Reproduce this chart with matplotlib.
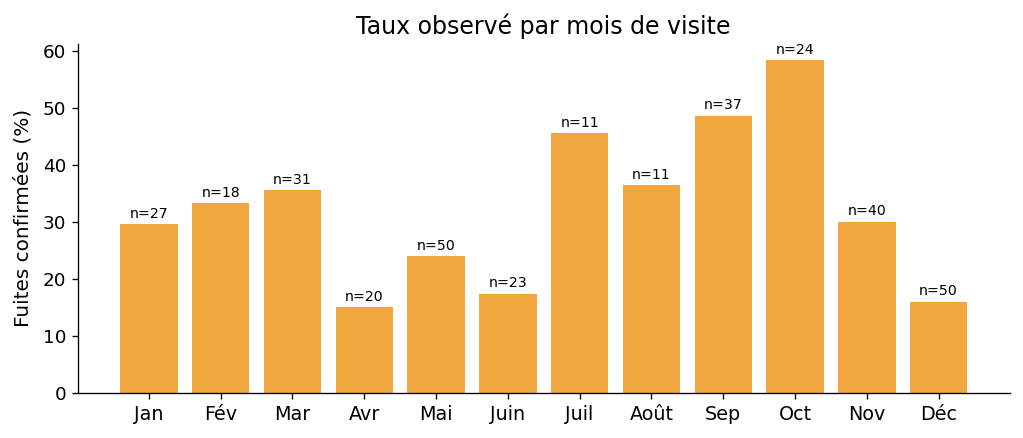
import matplotlib
matplotlib.use("Agg")
import matplotlib.pyplot as plt

months = ["Jan", "Fév", "Mar", "Avr", "Mai", "Juin", "Juil", "Août", "Sep", "Oct", "Nov", "Déc"]
rates = [29.6, 33.3, 35.5, 15.0, 24.0, 17.4, 45.5, 36.4, 48.6, 58.3, 30.0, 16.0]
counts = [27, 18, 31, 20, 50, 23, 11, 11, 37, 24, 40, 50]

DPI = 120
fig, ax = plt.subplots(figsize=(1023 / DPI, 438 / DPI), dpi=DPI)
x = list(range(len(months)))
bars = ax.bar(x, rates, width=0.8, color="#f2a63f")
for xi, r, n in zip(x, rates, counts):
    ax.annotate(f"n={n}", (xi, r), xytext=(0, 2), textcoords="offset points",
                ha="center", va="bottom", fontsize=8.5)
ax.set_xticks(x)
ax.set_xticklabels(months, fontsize=11.5)
ax.tick_params(axis="y", labelsize=11)
ax.set_ylabel("Fuites confirmées (%)", fontsize=12, labelpad=6)
ax.set_title("Taux observé par mois de visite", fontsize=14.2)
ax.spines["top"].set_visible(False)
ax.spines["right"].set_visible(False)
fig.subplots_adjust(left=0.076, right=0.987, top=0.9, bottom=0.103)
fig.savefig("out.png", dpi=DPI)
